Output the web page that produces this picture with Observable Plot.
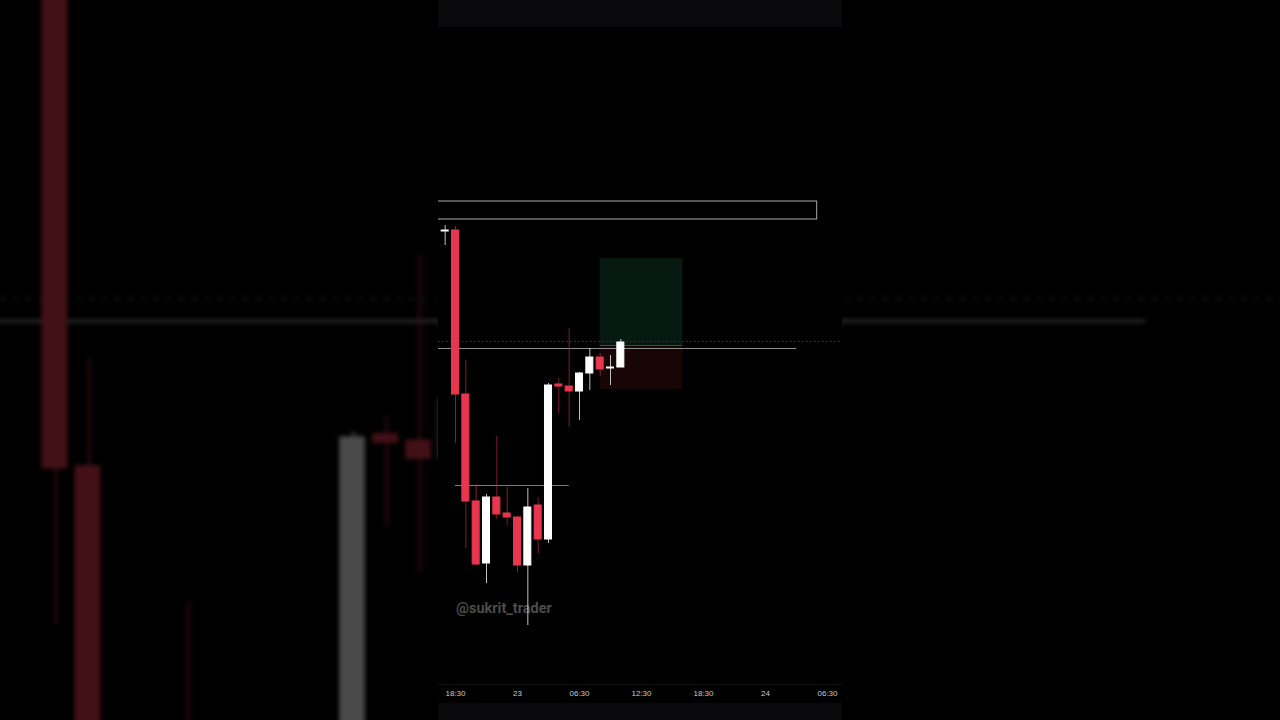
<!DOCTYPE html>
<html><head><meta charset="utf-8">
<script src="https://cdn.jsdelivr.net/npm/d3@7"></script>
<script src="https://cdn.jsdelivr.net/npm/@observablehq/plot@0.6"></script>
<style>
html,body{margin:0;padding:0;background:#000;width:1280px;height:720px;overflow:hidden;}
#bg{position:absolute;left:-0.4px;top:-794px;width:404px;height:720px;transform-origin:0 0;transform:scale(3.2);filter:brightness(0.29) blur(0.7px);}
#frame{position:absolute;left:438px;top:0;width:404px;height:720px;background:#000;overflow:hidden;}
#frame svg, #bg svg{position:absolute;left:0;top:0;}
.band{position:absolute;left:0;width:404px;background:#0a0a0d;}
#wm{position:absolute;left:18px;top:600px;font:700 14.5px Roboto,"Liberation Sans",sans-serif;color:#4c4c4c;}
</style></head>
<body>
<div id="bg"></div>
<div id="frame">
  <div class="band" style="top:0;height:27px"></div>
  <div class="band" style="top:684px;height:1px;background:#101013"></div>
  <div class="band" style="top:703px;height:17px"></div>
  <div id="wm">@sukrit_trader</div>
</div>
<script>
// hourly candles, hour 0 = 22nd 18:30 (price units arbitrary)
const hours = [-1, 0, 1, 2, 3, 4, 5, 6, 7, 8, 9, 10, 11, 12, 13, 14, 15, 16];
const open  = [1489, 1490, 1326, 1219, 1157, 1223, 1207, 1203, 1155, 1215, 1181, 1336, 1334, 1329, 1347, 1363, 1352, 1353];
const high  = [1495, 1494, 1360, 1236, 1226, 1284, 1233, 1204, 1232, 1223, 1337, 1342, 1392, 1348, 1372, 1367, 1365, 1381];
const low   = [1475, 1277, 1172, 1154, 1137, 1201, 1195, 1148, 1095, 1167, 1177, 1307, 1293, 1300, 1330, 1344, 1335, 1353];
const close = [1490, 1326, 1219, 1156, 1223, 1206, 1203, 1155, 1213, 1181, 1335, 1334, 1329, 1347, 1363, 1351, 1353, 1378];

const tickHours  = [0, 6, 12, 18, 24, 30, 36];
const tickLabels = ["18:30", "23", "06:30", "12:30", "18:30", "24", "06:30"];

// drawn levels
const boxTop = 1519, boxBottom = 1501, boxEnd = 35;
const entryLine = 1372, entryLineEnd = 33;
const dottedLevel = 1379;
const supportLevel = 1235, supportStart = 0, supportEnd = 11;
const zoneStart = 14, zoneEnd = 22;
const zoneEntry = 1375, targetLevel = 1462, stopLevel = 1331;
const leftEdge = -3;

const candles = hours.map((h, i) => ({h, o: open[i], hi: high[i], lo: low[i], c: close[i]}));
const up = "#ffffff", down = "#e8364f";
const col = d => d.c >= d.o ? up : down;

function makeChart(withAxis) {
  const marks = [
    Plot.rect([0], {x1: zoneStart, x2: zoneEnd, y1: zoneEntry, y2: targetLevel, fill: "#061a11"}),
    Plot.rect([0], {x1: zoneStart, x2: zoneEnd, y1: stopLevel, y2: zoneEntry, fill: "#180607"}),
    Plot.ruleY([zoneEntry], {x1: zoneStart, x2: zoneEnd, stroke: "#1d5a45", strokeWidth: 1}),
    Plot.ruleY([dottedLevel], {stroke: "#333838", strokeDasharray: "1.5,2.5", strokeWidth: 1}),
    Plot.ruleY([entryLine], {x1: leftEdge, x2: entryLineEnd, stroke: "#8e8e8e", strokeWidth: 1}),
    Plot.ruleY([supportLevel], {x1: supportStart, x2: supportEnd, stroke: "#7a7a7a", strokeWidth: 1}),
    Plot.rect([0], {x1: leftEdge, x2: boxEnd, y1: boxBottom, y2: boxTop, fill: "none", stroke: "#a8a8a8", strokeWidth: 1}),
    Plot.ruleX(candles, {x: "h", y1: "lo", y2: "hi", stroke: col, strokeOpacity: d => d.c >= d.o ? 0.75 : 0.55, strokeWidth: 1}),
    Plot.rect(candles, {x1: d => d.h - 0.34, x2: d => d.h + 0.34, y1: "o", y2: "c", fill: col, stroke: col, strokeWidth: 1})
  ];
  if (withAxis) marks.push(
    Plot.axisX(tickHours, {tickSize: 0, tickPadding: 4, tickFormat: d => tickLabels[tickHours.indexOf(d)], fill: "#c9c9c9", fontSize: 8, fontFamily: "'Liberation Sans', Arial, sans-serif", label: null})
  );
  return Plot.plot({
    width: 404, height: 720,
    marginLeft: 0, marginRight: 0, marginTop: 0, marginBottom: 34,
    style: {background: "transparent", overflow: "visible"},
    x: {domain: [0, 36], range: [17, 389], axis: null},
    y: {domain: [1000, 1720], range: [720, 0], axis: null},
    marks
  });
}

document.getElementById("frame").appendChild(makeChart(true));
document.getElementById("bg").appendChild(makeChart(false));
</script>
</body></html>
